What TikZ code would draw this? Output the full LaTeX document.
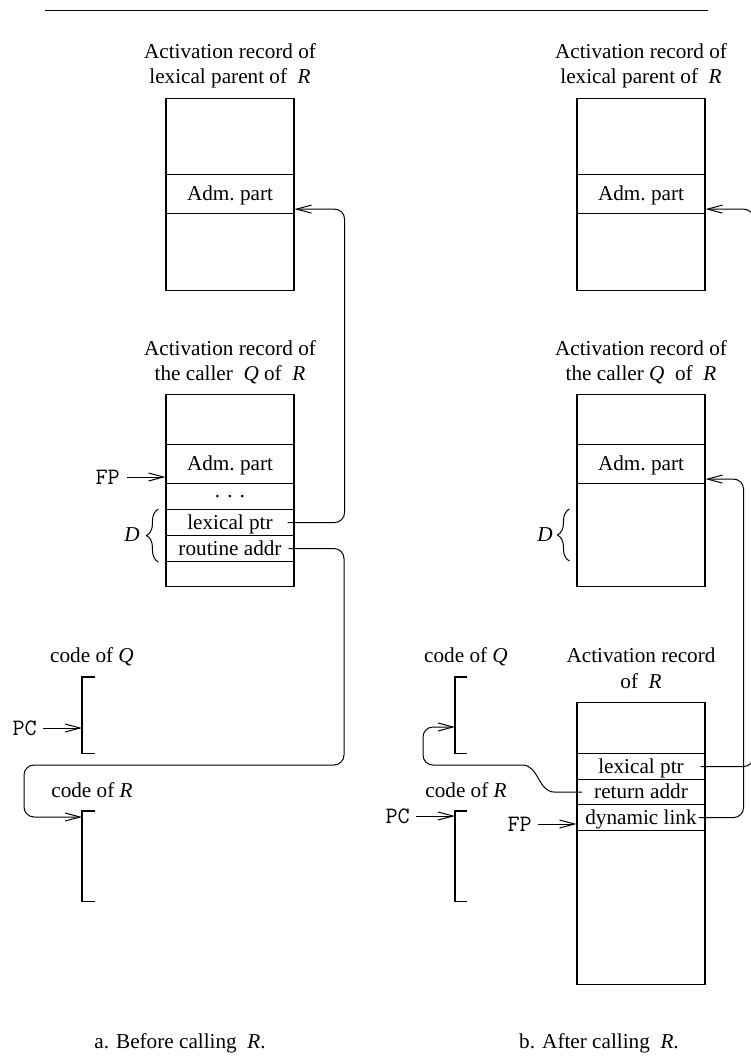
\documentclass[tikz,border=0pt]{standalone}
\usepackage{fontspec}
\setmainfont{Liberation Serif}
\usetikzlibrary{arrows.meta,decorations.pathreplacing,calc}
\begin{document}
\begin{tikzpicture}[x=1pt,y=-1pt,
  font=\fontsize{21.2}{25}\selectfont,
  cell/.style={draw, line width=1.1pt, minimum width=128pt, minimum height=#1,
    inner sep=0pt, anchor=north, text height=16pt, text depth=3pt},
  bracket/.style={minimum width=13pt, minimum height=#1, inner sep=0pt, anchor=north west},
  bk/.style={line width=1.1pt},
  reg/.style={font=\fontsize{23.5}{25}\selectfont\ttfamily, inner sep=0pt, anchor=east},
  ptr/.style={line width=1pt, -{Straight Barb[length=15pt,width=8pt]}},
  curly/.style={line width=1pt, decorate, decoration={brace, amplitude=12pt}},
  ttl/.style={anchor=base, inner sep=0pt}]
\useasboundingbox (0,0) rectangle (751,1057);

% rule above the figure
\draw[line width=0.9pt] (45,10) -- (708,10);

% ---------------- a. before calling R ----------------
\node[ttl] (ta1) at (230,59) {Activation record of};
\node[ttl] (ta2) at (230,84) {lexical parent of\enspace\textit{R}};
\node[cell=76pt] (a1top) at (230,98) {};
\node[cell=39pt] (a1adm) at (230,174) {Adm.\ part};
\node[cell=77pt] (a1bot) at (230,213) {};

\node[ttl] (tb1) at (230,355) {Activation record of};
\node[ttl] (tb2) at (230,380) {the caller\enspace\textit{Q} of\enspace\textit{R}};
\node[cell=50pt] (a2top) at (230,394) {};
\node[cell=39pt] (a2adm) at (230,444) {Adm.\ part};
\node[cell=26pt, text height=2pt, text depth=0pt] (a2dots) at (230,483) {. . .};
\node[cell=26pt] (a2lex) at (230,509) {lexical ptr};
\node[cell=26pt] (a2ret) at (230,535) {routine addr};
\node[cell=25pt] (a2bot) at (230,561) {};

\node[reg] (fpa) at (120,477) {FP};
\draw[ptr] ([xshift=7pt]fpa.east) -- (fpa -| a2adm.west);

\draw[curly] ([xshift=-7pt]a2ret.south west) -- ([xshift=-7pt]a2lex.north west);
\node (da) at (132,535) {\textit{D}};

\node[ttl] (cqla) at (92,662) {code of \textit{Q}};
\node[bracket=76pt] (cqa) at (82,677) {};
\draw[bk] (cqa.north east) -- (cqa.north west) -- (cqa.south west) -- (cqa.south east);
\node[reg] (pca) at (37,728) {PC};
\draw[ptr] ([xshift=6pt]pca.east) -- (pca -| cqa.west);

\node[ttl] (crla) at (92,797) {code of \textit{R}};
\node[bracket=90pt] (cra) at (82,811) {};
\draw[bk] (cra.north east) -- (cra.north west) -- (cra.south west) -- (cra.south east);

% static link of the caller and address of the routine
\draw[ptr, rounded corners=10pt] ([xshift=-7pt]a2lex.east)
  -| ([xshift=50pt,yshift=5pt]a1adm.south east) -- ([yshift=5pt]a1adm.south east);
\coordinate (ra1) at (344,765);
\coordinate (ra2) at (24,817);
\draw[ptr, rounded corners=10pt] ([xshift=-6pt]a2ret.east) -| (ra1) -| (ra2) -- (ra2 -| cra.west);

\node[ttl] (capa) at (180,1048) {a. Before calling\enspace\textit{R}.};

% ---------------- b. after calling R ----------------
\node[ttl] (tc1) at (641,59) {Activation record of};
\node[ttl] (tc2) at (641,84) {lexical parent of\enspace\textit{R}};
\node[cell=76pt] (b1top) at (641,98) {};
\node[cell=39pt] (b1adm) at (641,174) {Adm.\ part};
\node[cell=77pt] (b1bot) at (641,213) {};

\node[ttl] (td1) at (641,355) {Activation record of};
\node[ttl] (td2) at (641,380) {the caller \textit{Q}\enspace of\enspace\textit{R}};
\node[cell=50pt] (b2top) at (641,394) {};
\node[cell=39pt] (b2adm) at (641,444) {Adm.\ part};
\node[cell=103pt] (b2bot) at (641,483) {};

\draw[curly] ([shift={(-7pt,-78pt)}]b2bot.north west) -- ([shift={(-7pt,-26pt)}]b2bot.north west);
\node (db) at (545,535) {\textit{D}};

\node[ttl] (te1) at (641,662) {Activation record};
\node[ttl] (te2) at (641,688) {of\enspace\textit{R}};
\node[cell=51pt] (b3top) at (641,702) {};
\node[cell=26pt] (b3lex) at (641,753) {lexical ptr};
\node[cell=25pt] (b3ret) at (641,779) {return addr};
\node[cell=26pt] (b3dyn) at (641,804) {dynamic link};
\node[cell=154pt] (b3bot) at (641,830) {};

\node[reg] (fpb) at (532,824) {FP};
\draw[ptr] ([xshift=6pt]fpb.east) -- (fpb -| b3dyn.west);

\node[ttl] (cqlb) at (466,662) {code of \textit{Q}};
\node[bracket=76pt, minimum width=12pt] (cqb) at (455,677) {};
\draw[bk] (cqb.north east) -- (cqb.north west) -- (cqb.south west) -- (cqb.south east);

\node[ttl] (crlb) at (466,797) {code of \textit{R}};
\node[bracket=90pt, minimum width=12pt] (crb) at (455,811) {};
\draw[bk] (crb.north east) -- (crb.north west) -- (crb.south west) -- (crb.south east);
\node[reg] (pcb) at (410,816) {PC};
\draw[ptr] ([xshift=6pt]pcb.east) -- (pcb -| crb.west);

% links of the new activation record
\draw[ptr, rounded corners=10pt] ([xshift=-5pt]b3lex.east)
  -| ([xshift=48pt,yshift=5pt]b1adm.south east) -- ([yshift=5pt]b1adm.south east);
\draw[ptr, rounded corners=10pt] ([xshift=-7pt]b3dyn.east)
  -| ([xshift=38pt,yshift=5pt]b2adm.south east) -- ([yshift=5pt]b2adm.south east);
\coordinate (rb1) at (423,727);
\draw[ptr] ([xshift=6pt]b3ret.west) -- ++(-28pt,0pt) to[out=180,in=0] ++(-32pt,27pt)
  [rounded corners=10pt] -| (rb1) -- (rb1 -| cqb.west);

\node[ttl] (capb) at (599,1048) {b. After calling\enspace\textit{R}.};
\end{tikzpicture}
\end{document}
